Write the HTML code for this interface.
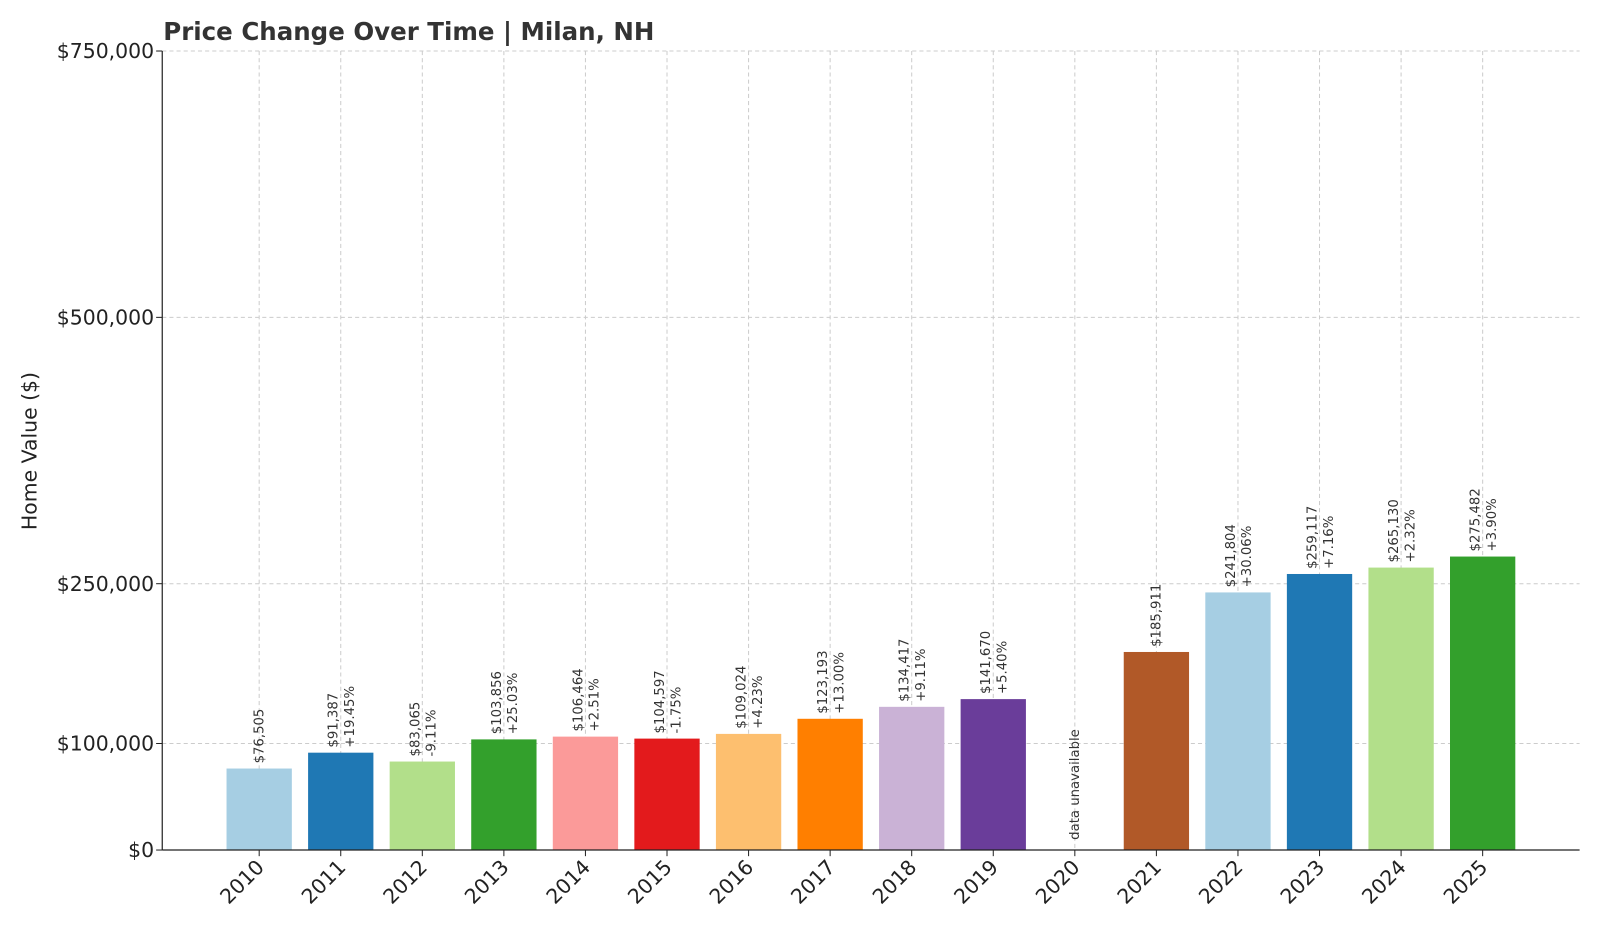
<!DOCTYPE html>
<html><head><meta charset="utf-8"><style>
body{margin:0;background:#fff;font-family:"Liberation Sans","DejaVu Sans",sans-serif}
</style></head><body>
<svg id="chart" width="1600" height="933" viewBox="0 0 1568 914.3" preserveAspectRatio="none" xmlns="http://www.w3.org/2000/svg" font-family="DejaVu Sans, Liberation Sans, sans-serif" style="display:block">
<text x="160" y="39" font-size="24" font-weight="bold" fill="#333">Price Change Over Time | Milan, NH</text>
<text transform="translate(36,442) rotate(-90)" text-anchor="middle" font-size="20" fill="#222">Home Value ($)</text>
<g id="grid"></g><g id="bars"></g><g id="labels"></g><g id="axes"></g>
</svg>
<script>
const years=["2010","2011","2012","2013","2014","2015","2016","2017","2018","2019","2020","2021","2022","2023","2024","2025"];
const values=[76505,91387,83065,103856,106464,104597,109024,123193,134417,141670,null,185911,241804,259117,265130,275482];
const changes=["","+19.45%","-9.11%","+25.03%","+2.51%","-1.75%","+4.23%","+13.00%","+9.11%","+5.40%","","","+30.06%","+7.16%","+2.32%","+3.90%"];
const yTicks=[0,100000,250000,500000,750000];
const yTickLabels=["$0","$100,000","$250,000","$500,000","$750,000"];
const colors=["#a6cee3","#1f78b4","#b2df8a","#33a02c","#fb9a99","#e31a1c","#fdbf6f","#ff7f00","#cab2d6","#6a3d9a","#ffff99","#b15928","#a6cee3","#1f78b4","#b2df8a","#33a02c"];
const NS="http://www.w3.org/2000/svg";
const L=159,R=1548,T=50,B=833;
const y=v=>B-(v/750000)*(B-T);
const x=i=>254+i*(1199/15);
const bw=64;
function mk(tag,attrs,parent){const e=document.createElementNS(NS,tag);for(const k in attrs)e.setAttribute(k,attrs[k]);parent.appendChild(e);return e;}
const grid=document.getElementById('grid'),bars=document.getElementById('bars'),labels=document.getElementById('labels'),axes=document.getElementById('axes');
yTicks.forEach((t,k)=>{
  const g=mk('line',{x1:L,x2:R,y1:y(t),y2:y(t),stroke:'#ccc','stroke-dasharray':'4,3','stroke-width':1},grid);
  
  
  const tk=mk('line',{x1:L-6,x2:L,y1:y(t),y2:y(t),stroke:'#222'},axes);
  
  
  const tl=mk('text',{x:L-8,y:y(t)+7,'text-anchor':'end','font-size':20,fill:'#222'},axes);
  tl.textContent=yTickLabels[k];
  
  
});
years.forEach((yr,i)=>{
  const cx=x(i);
  const g=mk('line',{x1:cx,x2:cx,y1:T,y2:B,stroke:'#ccc','stroke-dasharray':'4,3','stroke-width':1},grid);
  
  
  const tk=mk('line',{x1:cx,x2:cx,y1:B,y2:B+6,stroke:'#222'},axes);
  
  
  const tl=mk('text',{transform:`translate(${cx+6},${B+18}) rotate(-45)`,'text-anchor':'end','font-size':20,fill:'#222'},axes);
  tl.textContent=yr;
  
  
  const v=values[i];
  if(v===null){
    const t=mk('text',{transform:`translate(${cx+4},${B-10}) rotate(-90)`,'font-size':13,fill:'#333'},labels);
    t.textContent='data unavailable';
    
    
    return;
  }
  const b=mk('rect',{x:cx-bw/2,y:y(v),width:bw,height:B-y(v),fill:colors[i]},bars);
  
  
  const vt=mk('text',{transform:`translate(${cx+(changes[i]?-3:4)},${y(v)-5}) rotate(-90)`,'font-size':13,fill:'#333'},labels);
  vt.textContent='$'+v.toLocaleString('en-US');
  
  
  if(changes[i]){
    const ct=mk('text',{transform:`translate(${cx+13},${y(v)-5}) rotate(-90)`,'font-size':13,fill:'#333'},labels);
    ct.textContent=changes[i];
    
    
  }
});
const la=mk('line',{x1:L,x2:L,y1:T,y2:B,stroke:'#222','stroke-width':1.2},axes);


const ba=mk('line',{x1:L,x2:R,y1:B,y2:B,stroke:'#222','stroke-width':1.2},axes);


</script>
</body></html>
